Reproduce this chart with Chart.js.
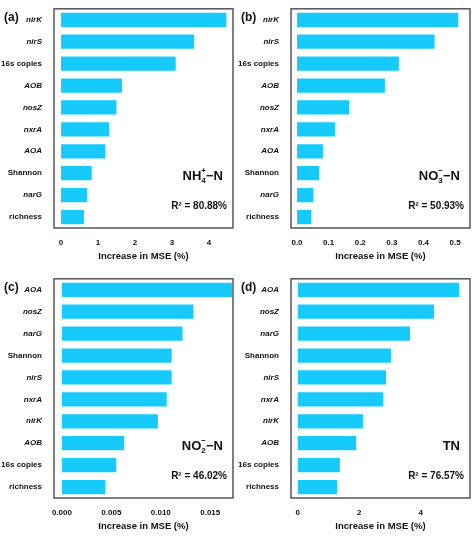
<!DOCTYPE html>
<html><head><meta charset="utf-8">
<script src="https://cdn.jsdelivr.net/npm/chart.js@4/dist/chart.umd.min.js"></script>
<style>
body{margin:0;background:#fff;width:474px;height:539px;position:relative;font-family:"Liberation Sans",Arial,sans-serif}
.p{position:absolute;width:237px;height:270px}
</style></head><body>
<div class="p" style="left:0;top:0"><canvas id="ca"></canvas></div>
<div class="p" style="left:237px;top:0"><canvas id="cb"></canvas></div>
<div class="p" style="left:0;top:270px"><canvas id="cc"></canvas></div>
<div class="p" style="left:237px;top:270px"><canvas id="cd"></canvas></div>
<script>
const labelsA = ["nirK","nirS","16s copies","AOB","nosZ","nxrA","AOA","Shannon","narG","richness"];
const valuesA = [4.47,3.6,3.1,1.65,1.5,1.3,1.2,0.83,0.7,0.62];
const labelsB = ["nirK","nirS","16s copies","AOB","nosZ","nxrA","AOA","Shannon","narG","richness"];
const valuesB = [0.51,0.435,0.322,0.278,0.165,0.12,0.082,0.07,0.052,0.045];
const labelsC = ["AOA","nosZ","narG","Shannon","nirS","nxrA","nirK","AOB","16s copies","richness"];
const valuesC = [0.0172,0.0133,0.0122,0.0111,0.0111,0.0106,0.0097,0.0063,0.0055,0.0044];
const labelsD = ["AOA","nosZ","narG","Shannon","nirS","nxrA","nirK","AOB","16s copies","richness"];
const valuesD = [5.25,4.43,3.65,3.03,2.87,2.78,2.12,1.9,1.37,1.28];
const plainLabels = ["16s copies","Shannon","richness"];

function panel(id, tag, labels, values, xmin, xmax, step, title, r2, decimals) {
  const ctx = document.getElementById(id).getContext("2d");
  new Chart(ctx, {
    type: "bar",
    data: { labels: labels, datasets: [{ data: values, backgroundColor: "#16CBFB", barPercentage: 0.65, categoryPercentage: 1 }] },
    options: {
      indexAxis: "y", responsive: false, animation: false,
      layout: { padding: { top: 2, right: 4, bottom: 4, left: 0 } },
      plugins: { legend: { display: false }, tooltip: { enabled: false } },
      scales: {
        x: {
          min: xmin, max: xmax, grid: { display: false, drawTicks: true }, border: { display: false },
          afterBuildTicks: s => { const t = []; for (let v = 0; v <= xmax + 1e-9; v += step) t.push({ value: +v.toFixed(6) }); s.ticks = t; },
          ticks: { color: "#111", font: { size: 8, weight: "bold" }, padding: 2, callback: v => (+v).toFixed(decimals) },
          title: { display: true, text: "Increase in MSE (%)", color: "#111", font: { size: 9.5, weight: "bold" }, padding: { top: 1 } }
        },
        y: {
          grid: { display: false }, border: { display: false },
          afterFit: s => { s.width = 54; },
          ticks: { color: "#111", padding: 4, font: c => ({ size: 8, weight: "bold", style: plainLabels.includes(labels[c.index]) ? "normal" : "italic" }) }
        }
      }
    },
    plugins: [{
      id: "deco",
      afterDraw(chart) {
        const a = chart.chartArea, c = chart.ctx;
        c.save();
        c.strokeStyle = "#555"; c.lineWidth = 1.5;
        c.strokeRect(a.left, a.top, a.right - a.left, a.bottom - a.top);
        c.fillStyle = "#111";
        c.font = "bold 12px 'Liberation Sans', Arial";
        c.textAlign = "left"; c.textBaseline = "middle";
        c.fillText(tag, 4, 18);
        c.textAlign = "right";
        c.font = "bold 13px 'Liberation Sans', Arial";
        const ty = a.bottom - 52, tx = a.right - 10;
        if (title.sub) {
          const w3 = c.measureText(title.after).width;
          c.fillText(title.after, tx, ty);
          c.font = "bold 8px 'Liberation Sans', Arial";
          const wsup = c.measureText(title.sup).width, wsub = c.measureText(title.sub).width;
          const w2 = Math.max(wsup, wsub);
          c.textAlign = "left";
          c.fillText(title.sup, tx - w3 - w2, ty - 5);
          c.fillText(title.sub, tx - w3 - w2, ty + 5);
          c.textAlign = "right";
          c.font = "bold 13px 'Liberation Sans', Arial";
          c.fillText(title.before, tx - w3 - w2, ty);
        } else {
          c.fillText(title.before, tx, ty);
        }
        c.font = "bold 10px 'Liberation Sans', Arial";
        c.fillText(r2, a.right - 6, a.bottom - 22);
        c.restore();
      }
    }]
  });
}
document.querySelectorAll("canvas").forEach(cv => { cv.width = 237; cv.height = 270; });
panel("ca", "(a)", labelsA, valuesA, -0.19, 4.65, 1, { before: "NH", sub: "4", sup: "+", after: "\u2212N" }, "R\u00B2 = 80.88%", 0);
panel("cb", "(b)", labelsB, valuesB, -0.019, 0.547, 0.1, { before: "NO", sub: "3", sup: "\u2212", after: "\u2212N" }, "R\u00B2 = 50.93%", 1);
panel("cc", "(c)", labelsC, valuesC, -0.0008, 0.0173, 0.005, { before: "NO", sub: "2", sup: "\u2212", after: "\u2212N" }, "R\u00B2 = 46.02%", 3);
panel("cd", "(d)", labelsD, valuesD, -0.22, 5.6, 2, { before: "TN" }, "R\u00B2 = 76.57%", 0);
</script>
</body></html>
